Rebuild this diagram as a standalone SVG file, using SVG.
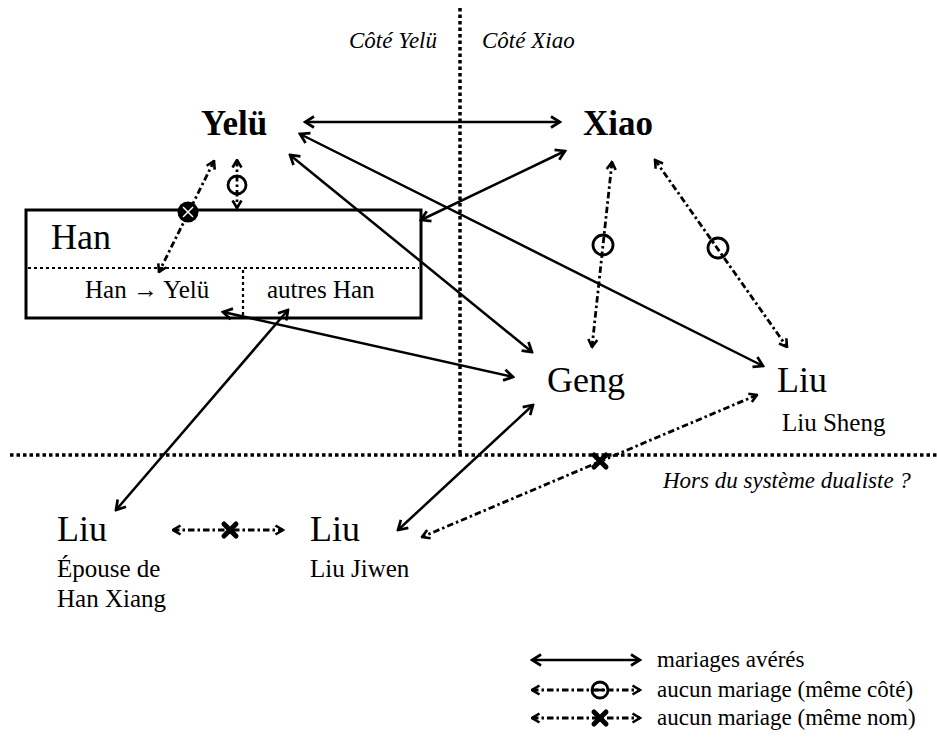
<svg xmlns="http://www.w3.org/2000/svg" width="937" height="749" viewBox="0 0 937 749">
<style>
text{font-family:"Liberation Serif","Times New Roman",serif;fill:#000}
.name{font-size:36px}
.bold{font-size:35px;font-weight:bold}
.sub{font-size:25px}
.ital{font-size:23px;font-style:italic}
.leg{font-size:23px}
.sep{stroke:#000;stroke-width:3.5;stroke-dasharray:3.5 3;fill:none}
.inner{stroke:#000;stroke-width:2.2;stroke-dasharray:3 3;fill:none}
.solid{stroke:#000;stroke-width:2.5;fill:none;marker-start:url(#ah);marker-end:url(#ah)}
.dd{stroke:#000;stroke-width:2.8;fill:none;stroke-dasharray:6.5 3 2.5 3;marker-start:url(#ahs);marker-end:url(#ahs)}
.ring{fill:none;stroke:#000;stroke-width:2.8}
.x{stroke:#000;stroke-width:5;stroke-linecap:round}
</style>
<defs>
<marker id="ah" viewBox="0 0 14 14" refX="12" refY="7" markerWidth="14" markerHeight="14" markerUnits="userSpaceOnUse" orient="auto-start-reverse">
<path d="M3,1.5 L12,7 L3,12.5" fill="none" stroke="#000" stroke-width="2.7"/>
</marker>
<marker id="ahs" viewBox="0 0 12 12" refX="10.5" refY="6" markerWidth="12" markerHeight="12" markerUnits="userSpaceOnUse" orient="auto-start-reverse">
<path d="M3,1.5 L10.5,6 L3,10.5" fill="none" stroke="#000" stroke-width="2.6"/>
</marker>
</defs>
<rect width="937" height="749" fill="#fff"/>

<g id="separators">
<line class="sep" x1="460" y1="8" x2="460" y2="455"/>
<line class="sep" x1="10" y1="455" x2="937" y2="455"/>
<text class="ital" x="437" y="48" text-anchor="end">Côté Yelü</text>
<text class="ital" x="482" y="48">Côté Xiao</text>
<text class="ital" x="663" y="488">Hors du système dualiste ?</text>
</g>

<g id="node-yelu"><text class="bold" x="201" y="135">Yelü</text></g>
<g id="node-xiao"><text class="bold" x="583" y="135">Xiao</text></g>
<g id="node-han">
<rect x="26" y="210" width="395" height="108" fill="none" stroke="#000" stroke-width="3"/>
<line class="inner" x1="28" y1="268" x2="419" y2="268"/>
<line class="inner" x1="243" y1="270" x2="243" y2="316"/>
<text class="name" x="51" y="249">Han</text>
<text class="sub" x="85" y="298">Han → Yelü</text>
<text class="sub" x="267" y="298">autres Han</text>
</g>
<g id="node-geng"><text class="name" x="547" y="392">Geng</text></g>
<g id="node-liu-sheng"><text class="name" x="777" y="392">Liu</text><text class="sub" x="782" y="431">Liu Sheng</text></g>
<g id="node-liu-epouse"><text class="name" x="57" y="541">Liu</text><text class="sub" x="57" y="577">Épouse de</text><text class="sub" x="57" y="607">Han Xiang</text></g>
<g id="node-liu-jiwen"><text class="name" x="310" y="541">Liu</text><text class="sub" x="310" y="577">Liu Jiwen</text></g>

<g id="connectors">
<line class="solid" x1="305" y1="122" x2="560" y2="122"/>
<line class="solid" x1="565" y1="151" x2="421" y2="220"/>
<line class="solid" x1="300" y1="134" x2="763" y2="366"/>
<line class="solid" x1="290" y1="155" x2="532" y2="352"/>
<line class="solid" x1="223" y1="312" x2="513" y2="377"/>
<line class="solid" x1="288" y1="310" x2="116" y2="510"/>
<line class="solid" x1="533" y1="405" x2="398" y2="530"/>

<line class="dd" x1="214" y1="161" x2="159" y2="272"/>
<circle cx="188" cy="212" r="10.5" fill="#000"/>
<path d="M183,207 L193,217 M193,207 L183,217" stroke="#fff" stroke-width="1.5"/>

<line class="dd" x1="237" y1="160" x2="237" y2="208"/>
<circle class="ring" cx="237" cy="185" r="9"/>

<line class="dd" x1="612" y1="162" x2="592" y2="347"/>
<circle class="ring" cx="603" cy="245" r="10"/>

<line class="dd" x1="655" y1="160" x2="787" y2="347"/>
<circle class="ring" cx="718" cy="248" r="10"/>

<line class="dd" x1="757" y1="395" x2="422" y2="537"/>
<path class="x" d="M594,455 L606,467 M606,455 L594,467"/>

<line class="dd" x1="173" y1="530" x2="283" y2="530"/>
<path class="x" d="M224,524 L236,536 M236,524 L224,536"/>
</g>

<g id="legend">
<line class="solid" x1="532" y1="660" x2="640" y2="660"/>
<text class="leg" x="657" y="667">mariages avérés</text>
<line class="dd" x1="532" y1="690" x2="640" y2="690"/>
<circle class="ring" cx="600" cy="690" r="8" fill="#fff"/>
<line x1="595" y1="690" x2="605" y2="690" stroke="#000" stroke-width="2.6"/>
<text class="leg" x="657" y="697">aucun mariage (même côté)</text>
<line class="dd" x1="532" y1="718" x2="640" y2="718"/>
<path class="x" d="M594,712 L606,724 M606,712 L594,724"/>
<text class="leg" x="657" y="725">aucun mariage (même nom)</text>
</g>
</svg>
